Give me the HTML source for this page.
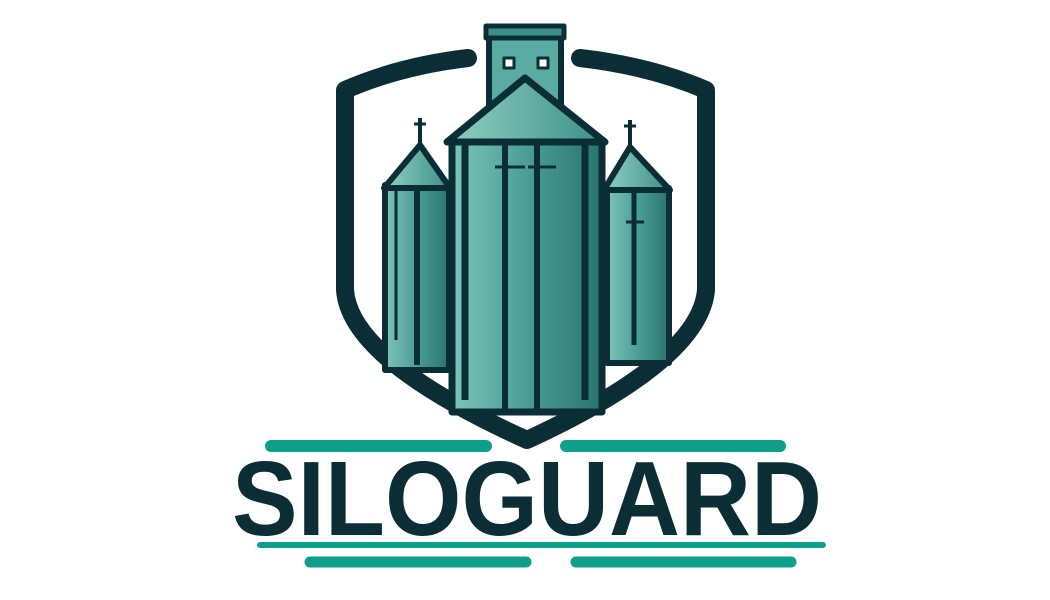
<!DOCTYPE html>
<html><head><meta charset="utf-8"><style>
html,body{margin:0;padding:0;background:#fff;width:1050px;height:600px;overflow:hidden}
svg{display:block}
</style></head><body>
<svg width="1050" height="600" viewBox="0 0 1050 600">
<defs>
<linearGradient id="tg" x1="0" x2="1" y1="0" y2="0">
<stop offset="0" stop-color="#7cc4ba"/><stop offset="0.5" stop-color="#4a9e96"/><stop offset="1" stop-color="#2a736f"/>
</linearGradient>
<linearGradient id="rg" x1="0" x2="1">
<stop offset="0" stop-color="#8fd0c4"/><stop offset="1" stop-color="#3d8f88"/>
</linearGradient>
</defs>
<g fill="none" stroke="#0b2e36" stroke-width="18" stroke-linecap="round" stroke-linejoin="round">
<path d="M468 58 Q400 66 345 90 L345 290 Q350 360 527 440 Q700 360 706 290 L706 90 Q650 66 580 58"/>
</g>
<g stroke="#0b2e36" stroke-linejoin="round">
<rect x="385" y="185" width="64" height="185" fill="url(#tg)" stroke-width="6"/>
<polygon points="420,145 384,188 450,188" fill="url(#rg)" stroke-width="6"/>
<line x1="420" y1="118" x2="420" y2="145" stroke-width="4"/>
<line x1="414" y1="124" x2="426" y2="124" stroke-width="3"/>
<line x1="417" y1="188" x2="417" y2="365" stroke-width="6"/>
<line x1="396" y1="188" x2="396" y2="340" stroke-width="3"/>
</g>
<g stroke="#0b2e36" stroke-linejoin="round">
<rect x="607" y="188" width="62" height="175" fill="url(#tg)" stroke-width="6"/>
<polygon points="630,147 604,190 670,190" fill="url(#rg)" stroke-width="6"/>
<line x1="630" y1="120" x2="630" y2="147" stroke-width="4"/>
<line x1="624" y1="126" x2="636" y2="126" stroke-width="3"/>
<line x1="634" y1="190" x2="634" y2="345" stroke-width="5"/>
<line x1="626" y1="222" x2="644" y2="222" stroke-width="3"/>
</g>
<g stroke="#0b2e36" stroke-linejoin="round">
<rect x="489" y="30" width="72" height="75" fill="#5aaba2" stroke-width="6"/>
<rect x="486" y="26" width="78" height="12" fill="#3f8f88" stroke-width="5"/>
<rect x="504" y="58" width="10" height="10" fill="#fff" stroke-width="3"/>
<rect x="538" y="58" width="10" height="10" fill="#fff" stroke-width="3"/>
<rect x="452" y="140" width="150" height="272" fill="url(#tg)" stroke-width="7"/>
<polygon points="525,78 447,142 605,142" fill="url(#rg)" stroke-width="7"/>
<line x1="465" y1="142" x2="465" y2="400" stroke-width="7"/>
<line x1="505" y1="142" x2="505" y2="412" stroke-width="6"/>
<line x1="537" y1="142" x2="537" y2="412" stroke-width="6"/>
<line x1="585" y1="142" x2="585" y2="400" stroke-width="7"/>
<line x1="495" y1="167" x2="525" y2="167" stroke-width="3"/>
<line x1="528" y1="167" x2="556" y2="167" stroke-width="3"/>
</g>
<g stroke="#0f9e8a" stroke-linecap="round">
<line x1="271" y1="446" x2="486" y2="446" stroke-width="12"/>
<line x1="566" y1="446" x2="780" y2="446" stroke-width="12"/>
<line x1="260" y1="545" x2="823" y2="545" stroke-width="6"/>
<line x1="310" y1="562" x2="526" y2="562" stroke-width="11"/>
<line x1="576" y1="562" x2="791" y2="562" stroke-width="11"/>
</g>
<text x="232" y="535" textLength="590" lengthAdjust="spacingAndGlyphs" font-family="Liberation Sans, sans-serif" font-weight="bold" font-size="106" fill="#0b2e36">SILOGUARD</text>
</svg>
</body></html>
